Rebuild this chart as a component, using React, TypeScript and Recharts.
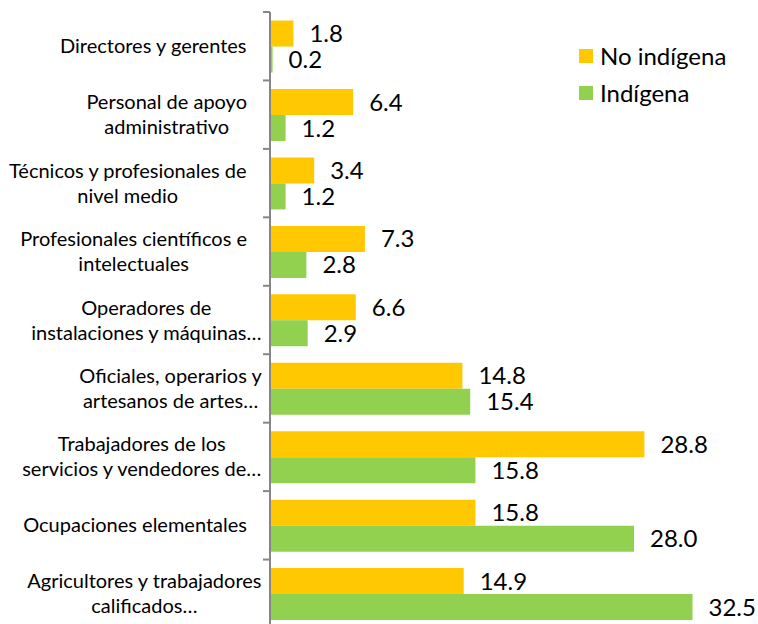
import React from 'react';
import { BarChart, Bar, XAxis, YAxis, LabelList } from 'recharts';

const CATEGORIES = [
  'Directores y gerentes',
  'Personal de apoyo|administrativo',
  'Técnicos y profesionales de|nivel medio',
  'Profesionales científicos e|intelectuales',
  'Operadores de|instalaciones y máquinas…',
  'Oficiales, operarios y|artesanos de artes…',
  'Trabajadores de los|servicios y vendedores de…',
  'Ocupaciones elementales',
  'Agricultores y trabajadores|calificados…',
];
const NO_INDIGENA = [1.8, 6.4, 3.4, 7.3, 6.6, 14.8, 28.8, 15.8, 14.9];
const INDIGENA = [0.2, 1.2, 1.2, 2.8, 2.9, 15.4, 15.8, 28.0, 32.5];
const SERIES_NAMES = ['No indígena', 'Indígena'];
const COLORS = ['#FFC800', '#92D050'];

const data = CATEGORIES.map((name, i) => ({ name, no: NO_INDIGENA[i], ind: INDIGENA[i] }));

const W = 758;
const H = 632;
const TOP = 12;
const BOTTOM = 4;
const LEFT = 270;
const BAND = (H - TOP - BOTTOM) / CATEGORIES.length;
const FONT = 'Lato, "Open Sans", sans-serif';
const CAT_SIZE = 20;

let ctx: CanvasRenderingContext2D | null = null;
function measure(t: string, size: number) {
  if (!ctx) ctx = document.createElement('canvas').getContext('2d');
  if (!ctx) return t.length * size * 0.5;
  ctx.font = `${size}px Lato`;
  return ctx.measureText(t).width;
}

function CatTick(props: any) {
  const { x, y, payload, index } = props;
  const lines: string[] = String(payload.value).split('|');
  const right = String(payload.value).includes('…') ? 262 : 247;
  const bw = Math.max(...lines.map((l) => measure(l, CAT_SIZE)));
  const cx = right - bw / 2;
  const lh = 25;
  const y0 = y - ((lines.length - 1) * lh) / 2;
  return (
    <g>
      <line x1={x - 7} x2={x} y1={y - BAND / 2} y2={y - BAND / 2} stroke="#868686" strokeWidth={2} />
      {index === CATEGORIES.length - 1 && (
        <line x1={x - 7} x2={x} y1={y + BAND / 2} y2={y + BAND / 2} stroke="#868686" strokeWidth={2} />
      )}
      {lines.map((l, i) => (
        <text key={i} x={cx} y={y0 + i * lh} dy="0.35em" textAnchor="middle" fontSize={CAT_SIZE} fontFamily={FONT} fill="#000">
          {l}
        </text>
      ))}
    </g>
  );
}

function LegendBox() {
  return (
    <div style={{ position: 'absolute', left: 579, top: 37, fontFamily: FONT, fontSize: 24, color: '#000' }}>
      {SERIES_NAMES.map((n, i) => (
        <div key={n} style={{ display: 'flex', alignItems: 'center', height: 37 }}>
          <span style={{ width: 14, height: 14, background: COLORS[i], marginRight: 7, display: 'inline-block' }} />
          {n}
        </div>
      ))}
    </div>
  );
}

const fmt = (v: any) => Number(v).toFixed(1);
const labelStyle = { fontSize: 24, fontFamily: FONT, fill: '#000' };

export default function App() {
  return (
    <div style={{ position: 'fixed', left: 0, top: 0, width: W, height: 624, overflow: 'hidden', background: '#fff' }}>
      <BarChart
        width={W}
        height={H}
        data={data}
        layout="vertical"
        margin={{ top: TOP, right: 33, bottom: BOTTOM, left: 0 }}
        barCategoryGap="12.5%"
        barGap={0}
      >
        <XAxis type="number" domain={[0, 35]} hide />
        <YAxis
          type="category"
          dataKey="name"
          width={LEFT}
          interval={0}
          tickSize={0}
          tickMargin={0}
          tickLine={false}
          axisLine={{ stroke: '#868686', strokeWidth: 2 }}
          tick={<CatTick />}
        />
        <Bar dataKey="no" name={SERIES_NAMES[0]} fill={COLORS[0]} isAnimationActive={false}>
          <LabelList dataKey="no" position="right" offset={16} formatter={fmt} style={labelStyle} />
        </Bar>
        <Bar dataKey="ind" name={SERIES_NAMES[1]} fill={COLORS[1]} isAnimationActive={false}>
          <LabelList dataKey="ind" position="right" offset={16} formatter={fmt} style={labelStyle} />
        </Bar>
      </BarChart>
      <LegendBox />
    </div>
  );
}
